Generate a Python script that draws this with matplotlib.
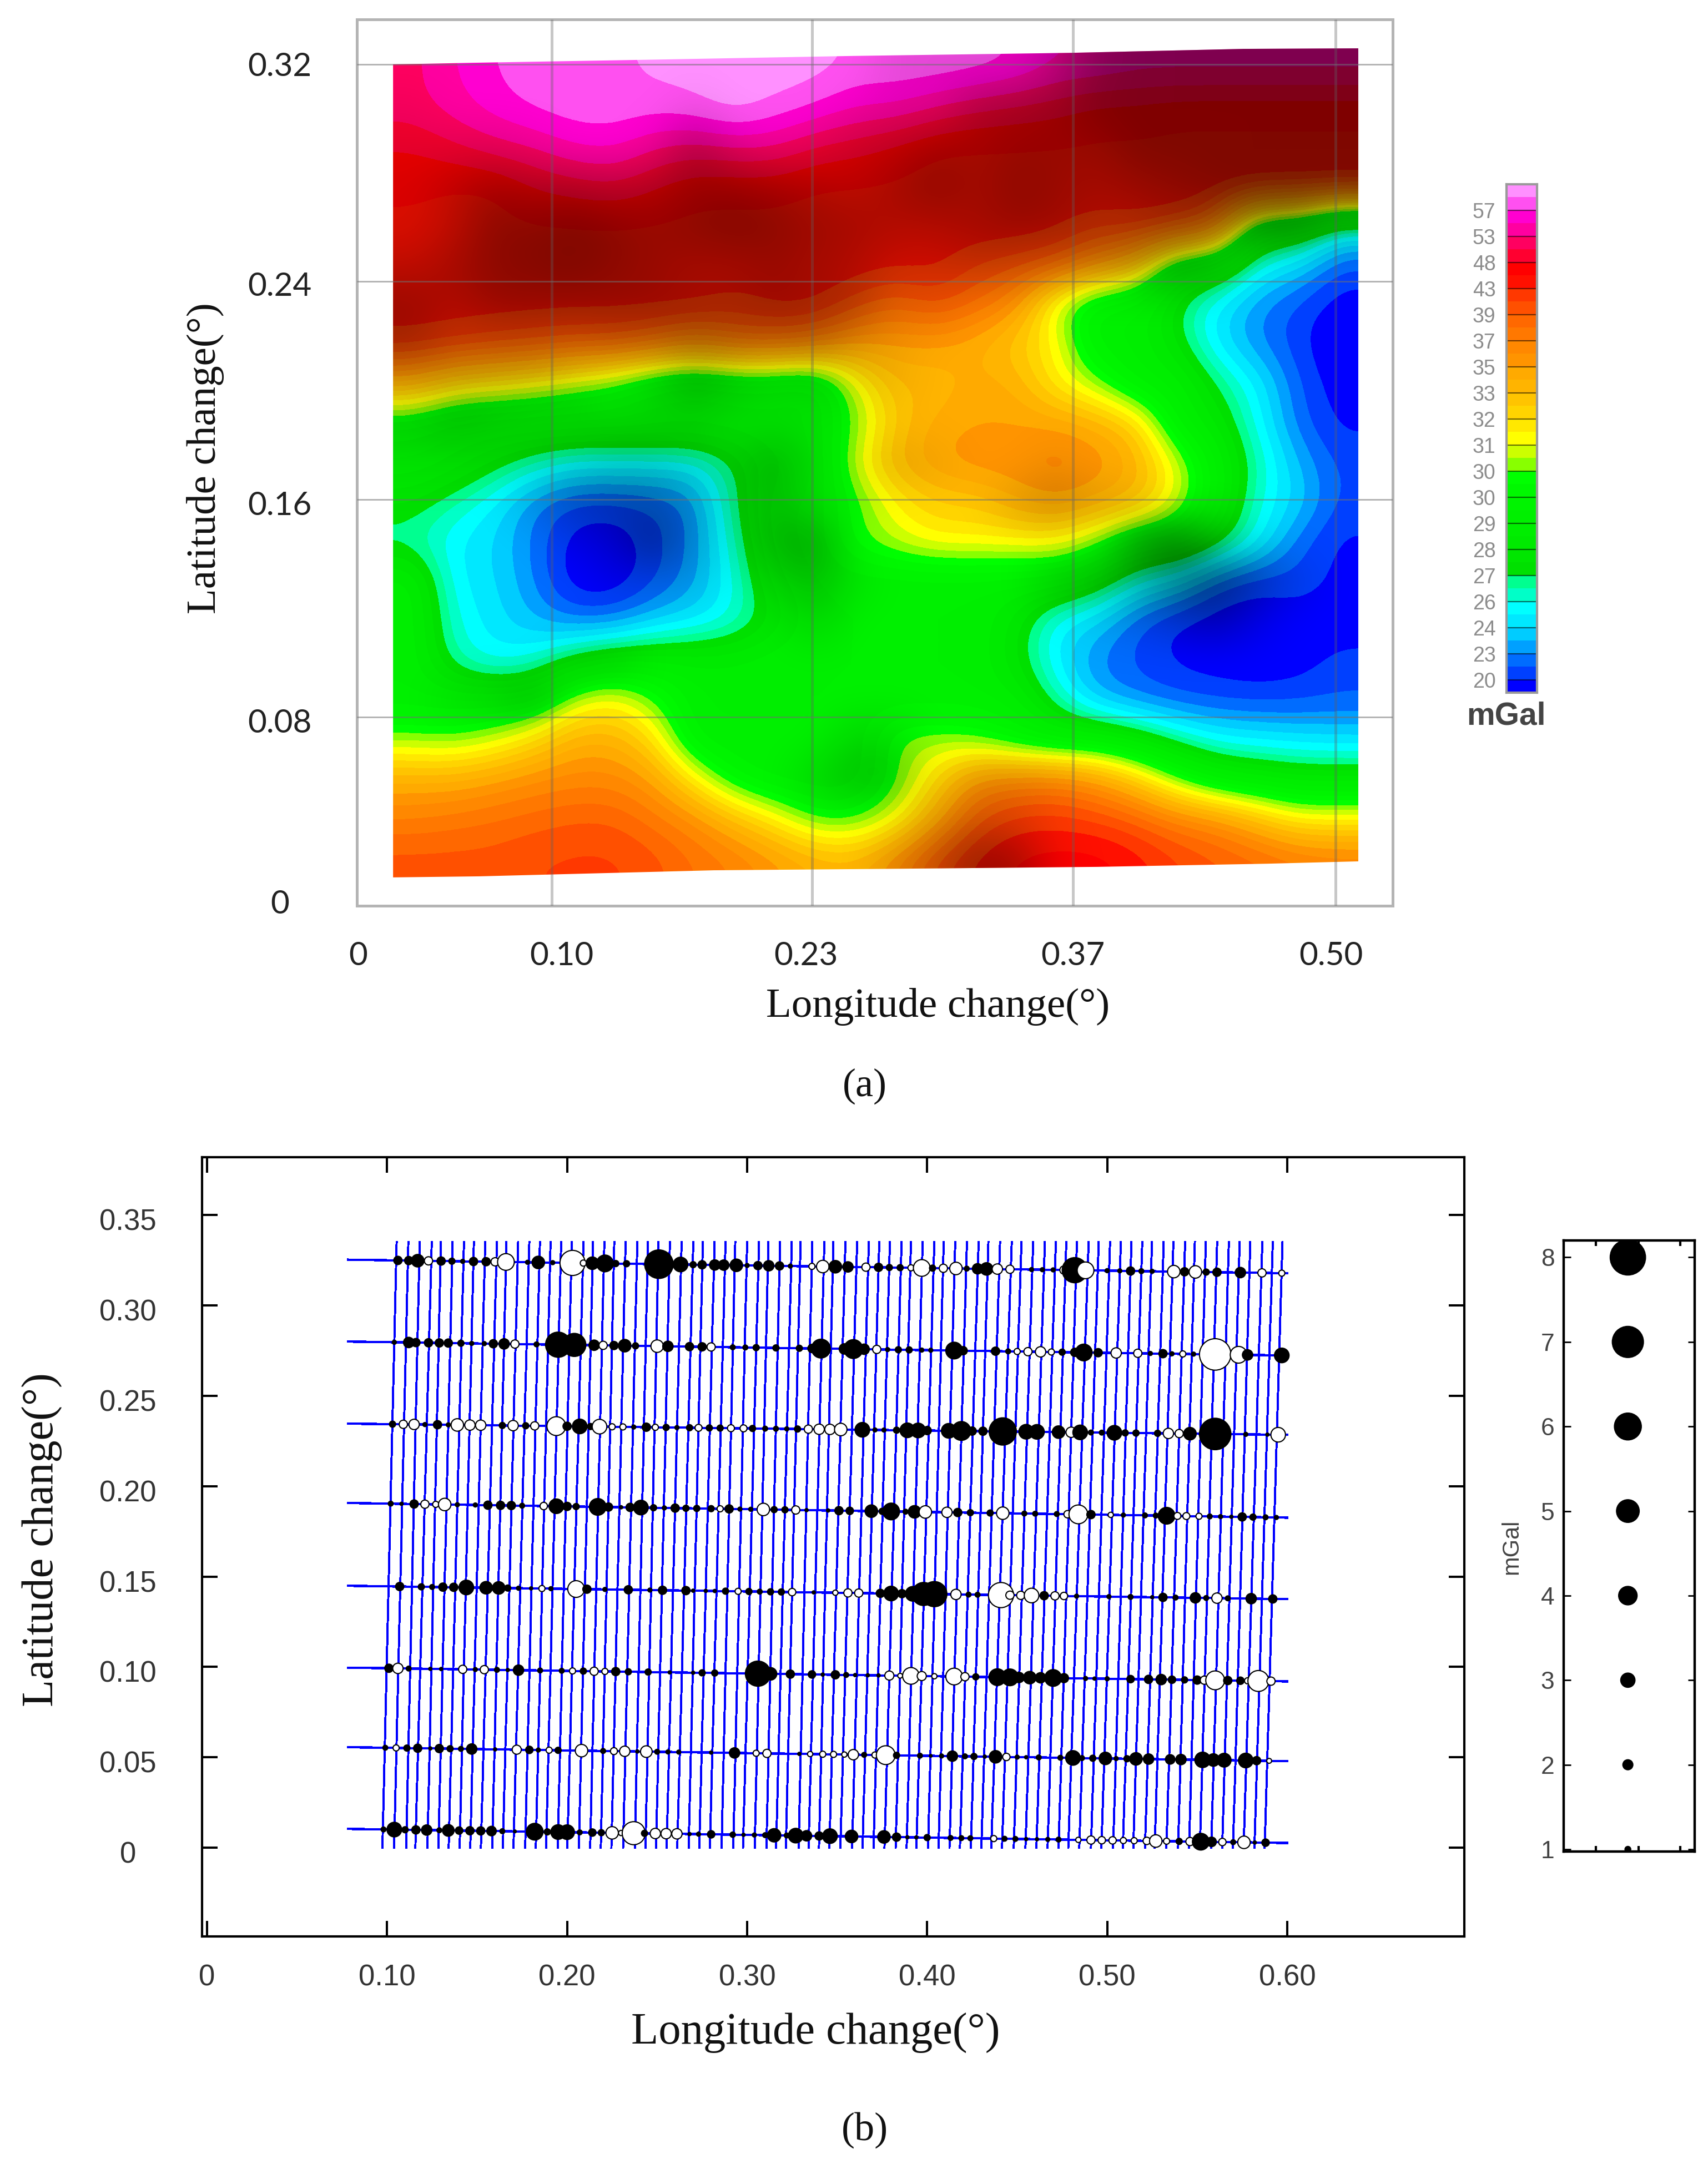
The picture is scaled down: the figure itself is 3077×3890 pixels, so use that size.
import numpy as np
from matplotlib import pyplot as plt
from matplotlib.colors import ListedColormap, BoundaryNorm, LinearSegmentedColormap
from matplotlib.patches import Polygon
from matplotlib.transforms import ScaledTranslation

W, H = 3077, 3890
plt.rcParams['font.family'] = ['Liberation Sans', 'DejaVu Sans']

# (a) gravity field, mGal, rows top to bottom
field = np.array([
    [52,55,57,60,60,60,62,63,64,64,63,60,60, 60,59,57,55,55,54,54,54,54,54,54],
    [52,54,56,58,60,60,59,60,64,60,57,55,55, 53,51,50,49,47,47,46,46,46,46,46],
    [48,50,52,53,55,55.5,53,52,53,53,50,49,47, 45,45,45,45,45,45,45,45,45,45,45],
    [46,45,45,48,49,50,48,46,46,46,45,45,45, 45,45,45,45,45,45,45,45,45,45,45],
    [45,45,45,45,45,45,45,45,45,45,45,45,45, 45,45,45,44,42,43,42,38,29,29,26],
    [45,45,45,45,45,45,45,45,45,45,45,45,44, 44,41,40,39,36,33,29,29,25.5,24,21],
    [44,44,44,44,44,44,44,44,42,44,44,40,38, 40,38,36,30.6,29,29,27,24.5,23,21,19],
    [43,42,41,40,39,39,38,36,38,38,37,35,35, 35,34,32.5,31.5,29,29,27.5,24.5,23,20.5,18],
    [34,32,31.5,31,30.5,30,29,28.5,29,29,28.5,31,33, 33,34.5,34,31.5,30.5,29,29,27,25,21.5,19],
    [29.5,29,29,29,29,29,29,29,29,29,29,30.3,32.5, 34.5,35,35,35,34,32.5,29,28,25.5,22,19.5],
    [29,28.5,27.5,26.5,25.5,25.5,25.5,25.5,27,28.5,28.5,31,33.5, 35,36,36,37,36,34,31,29,26.5,23.5,21],
    [27.5,26.5,25,23,21,21,21.5,23,27,29,29,30,31.5, 32.5,32.5,34,35,34,33,31,29,26,24,21],
    [26.5,25,24,22.5,19,18.5,21,23,26.5,29,29,30.2,30.8, 31.5,31.5,31.5,31.5,30.5,29,29,27.5,25.5,22,19.5],
    [29,25,24.3,23,18.5,18.5,21,23.3,25.8,28.5,29,29,29, 29,29,29,29,27.8,26,24.5,21.5,20,21,19.5],
    [29,26,24.5,23.5,22.5,22.5,23.8,24.5,26,27.5,29,29,29, 29,29,27.8,25,24,21.5,19.5,19,19,19,19],
    [29,26.5,25,26,27.5,28.5,28.6,28.6,28.6,29,29,29,29, 29,29,27.5,24.8,22.5,21,19.5,19,18.5,19,20.5],
    [29,29,29,29,30.8,31.5,30.3,29,29,29,29,29,29, 29,29,28.8,26.5,23.5,22.5,21.5,21,20.8,21,21.5],
    [30.5,30.3,30.8,32,34,34,32,29,29,29,29,29,30.5, 30.6,30.3,29.5,29,29,28,26.5,25.2,24.7,24.3,24],
    [34,34,35,36,36.5,36.5,35,31.5,29.5,29,29,29,30, 32,35.5,36.5,37,35.5,32.5,30.3,29,28.5,28,28],
    [37,37.5,38,38.5,39,39,37.5,36,33,31.5,30,30,31, 34,39,42,42,41,39,37,36,33,31.5,31.5],
    [40,40,40,41,41.5,41.5,40,38,37,35.5,34,33.5,36, 40,44,46,47,47,44.5,41.5,39.5,38.5,37.5,37],
])

# hill shading of the same cells
shade = np.array([
    [0,0,0,0,0,0,0,0,0,0,0,0,.1, .1,.1,.1,.25,.45,.5,.5,.5,.5,.5,.5],
    [.05,0,0,0,0,0,0,.05,0,0,0,.05,.1, .1,.3,.35,.4,.5,.5,.5,.5,.5,.5,.5],
    [.1,.1,.1,.05,0,0,.05,.3,.1,.05,.1,.2,.25, .35,.35,.4,.4,.4,.5,.5,.5,.5,.5,.5],
    [.15,.25,.35,.3,.3,.25,.3,.4,.4,.35,.3,.25,.35, .45,.35,.45,.4,.35,.4,.45,.5,.5,.5,.5],
    [.15,.25,.45,.45,.5,.45,.4,.45,.5,.45,.38,.35,.3, .3,.35,.4,.38,.3,.3,.35,.3,.4,.4,.2],
    [.25,.35,.45,.48,.5,.45,.4,.35,.35,.4,.35,.3,.2, .2,.25,.2,.15,.2,.25,.3,.2,0,0,0],
    [.4,.3,.4,.4,.4,.4,.4,.35,.35,.4,.35,.3,.1, .1,0,0,0,0,0,0,0,0,0,0],
    [.35,.2,.2,.2,.15,.2,.2,.3,.25,.2,.25,.1,.05, 0,0,0,0,0,0,0,0,0,0,0],
    [.1,.2,.2,.2,.15,.05,.1,.25,.15,.1,.1,.1,.05, 0,0,0,0,0,0,0,0,0,0,0],
    [.15,.2,.15,.1,.1,.1,.1,.1,.05,.05,.05,.05,0, 0,0,0,0,0,0,0,0,0,0,0],
    [.05,.05,.05,.1,.15,.2,.2,.15,.1,.25,.05,.05,.1, .05,0,0,.05,0,0,0,0,0,0,0],
    [0,0,0,.1,.25,.3,.3,.15,.1,.2,.05,.05,0, 0,0,.1,.2,.1,.05,0,0,0,0,0],
    [0,0,0,0,.1,.2,.45,.15,.05,.25,.3,0,0, 0,0,0,0,0,.3,.45,.2,.05,0,0],
    [0,0,0,0,0,.1,.1,.1,0,.1,.2,.05,0, 0,0,0,.15,.2,.3,.45,.5,.3,.1,0],
    [0,0,0,0,0,0,0,0,0,0,.1,0,0, 0,0,0,0,.05,.1,.2,.3,.1,0,0],
    [0,0,0,0,.1,.1,0,0,0,0,0,0,0, 0,0,0,0,0,0,0,0,0,0,0],
    [0,.05,.1,.2,0,0,0,0,0,0,0,0,0, 0,0,0,0,0,0,0,0,0,0,0],
    [0,0,0,0,0,0,0,0,0,0,0,.1,.1, 0,0,0,0,0,0,0,0,0,0,0],
    [0,0,0,0,0,0,0,0,0,0,.1,.2,.2, 0,.1,.1,.05,0,0,0,0,0,0,0],
    [0,0,0,0,0,0,0,0,0,0,0,0,0, .1,.15,.1,0,0,0,0,0,0,0,0],
    [0,0,0,0,0,0,0,0,0,0,0,0,.1, .2,.4,.35,.05,0,0,0,0,0,0,0],
])

# outline of the surveyed area
edge_x = [.0179,.0582,.1579,.2521,.3654,.4532,.5117,.5117,.4650,.3780,.2780,.1820,.0620,.0179]
edge_y = [.3200,.3206,.3219,.3232,.3244,.3259,.3261,.0169,.0160,.0148,.0141,.0135,.0112,.0108]

levels = [17,20,23,24,26,27,28,29,29.6,30.3,31,32,33,35,37,39,43,48,53,57,65]
level_labels = ['20','23','24','26','27','28','29','30','30','31','32','33','35','37','39','43','48','53','57']
band_colors = ['#0000ff','#0000ff','#0040ff','#006cff','#00a0ff','#00ccff','#00e8ff','#00ffff',
               '#00ffc8','#00ff90','#00e000','#00e600','#00ea00','#00ee00','#00f000','#00f400',
               '#00f800','#00ff00','#88ff00','#ccff00','#ffff00','#ffe800','#ffd400','#ffc400',
               '#ffb400','#ffaa00','#ff9400','#ff8800','#ff7800','#ff6800','#ff5000','#ff3800',
               '#ff1000','#ff0000','#ff0030','#ff0060','#ff00a0','#ff00d0','#ff50f0','#ff90ff']

a_xticks = [0,.1042,.2291,.3657,.4977]
a_xlabels = ['0','0.10','0.23','0.37','0.50']
a_yticks = [.0015,.0705,.1532,.2366,.3202]
a_ylabels = ['0','0.08','0.16','0.24','0.32']
a_gridx = [.0991,.2322,.3657,.5]
a_gridy = [.0718,.1545,.2375,.32]

# (b) survey lines, degrees
line_top = [.1053,.1118,.1181,.1248,.1299,.1364,.1427,.1482,.1545,.1610,.1663,.1728,.1790,.1849,.1908,.1967,.2026,.2091,
            .2144,.2207,.2262,.2325,.2390,.2449,.2508,.2571,.2636,.2701,.2754,.2819,.2880,.2934,.3000,.3066,.3118,.3183,
            .3248,.3297,.3362,.3429,.3479,.3546,.3611,.3676,.3734,.3793,.3858,.3910,.3975,.4040,.4092,.4156,.4221,.4286,
            .4340,.4405,.4470,.4524,.4589,.4654,.4715,.4773,.4832,.4897,.4953,.5016,.5076,.5135,.5195,.5249,.5314,.5368,
            .5433,.5487,.5548,.5611,.5676,.5736,.5795,.5862,.5920,.5974]
line_bot = [.0974,.1039,.1106,.1157,.1224,.1285,.1342,.1403,.1462,.1521,.1584,.1643,.1702,.1767,.1826,.1883,.1948,.2001,
            .2065,.2128,.2187,.2246,.2311,.2376,.2435,.2494,.2553,.2612,.2675,.2734,.2793,.2858,.2923,.2977,.3042,.3107,
            .3161,.3215,.3286,.3341,.3399,.3457,.3518,.3583,.3641,.3702,.3763,.3825,.3886,.3940,.4005,.4063,.4124,.4182,
            .4243,.4301,.4356,.4416,.4481,.4546,.4607,.4669,.4730,.4784,.4845,.4910,.4968,.5033,.5087,.5145,.5210,.5264,
            .5329,.5394,.5455,.5515,.5578,.5639,.5699,.5758,.5818,.5875]
row_left = [.3253,.2800,.2346,.1907,.1449,.0996,.0556,.0104]
row_right = [.3178,.2723,.2284,.1826,.1375,.0920,.0479,.0026]
row_xstart = .0783
row_xend = .600

# crossover residuals, black positive, white negative
r1_x = [.106,.112,.117,.123,.130,.136,.142,.148,.155,.160,.166,.178,.184,.192,.203,.209,.214,.221,.227,.233,.251,.263,.270,.275,.282,
        .287,.294,.300,.306,.312,.318,.324,.336,.342,.349,.356,.366,.373,.379,.385,.391,.397,.403,.409,.416,.422,.428,.433,.439,.446,
        .458,.464,.470,.476,.482,.488,.500,.507,.513,.519,.525,.537,.543,.549,.555,.561,.574,.586,.597]
r1_v = [1.5,1.5,2.5,-1.5,1.5,1,.5,1.5,1.5,-1.5,-3.5,.5,2.5,.5,-5.5,-1,2.5,3.5,1,1,6.3,3,1,1.5,2,
        2,2.5,.5,1.5,2,1.5,.5,-1,-2.5,2.5,2,-1.5,1.5,1,1,-1,-3.5,1,-1.5,-2.5,.7,2,2.5,-2,-1.5,
        .5,.5,.5,-1.5,5.5,-3.5,.5,.5,1.5,.7,.5,-2.5,1.5,-2.5,1,1.5,2,-1.5,-1]
r2_x = [.104,.112,.116,.123,.129,.134,.141,.147,.154,.159,.165,.171,.183,.195,.204,.215,.220,.226,.232,.238,.250,.256,.268,.275,.280,
        .292,.299,.305,.316,.329,.336,.341,.354,.359,.365,.372,.378,.384,.390,.397,.402,.415,.420,.438,.445,.450,.456,.463,.469,.475,
        .482,.487,.495,.505,.517,.524,.531,.536,.542,.548,.560,.573,.578,.597]
r2_v = [.5,2,1.5,1.5,1.5,1.5,1,.5,.5,1.5,2,-1.5,.7,5.5,5,2,-1.5,1.5,2.5,1,-2.5,2,1.5,1.5,-1.5,
        .7,.7,1,1,1,1.5,4,2,4,2,-1.5,.5,1,1,.5,.5,3.5,1.5,1.5,.7,-1,-1.5,-2,-1,1,
        1.5,3.5,1.5,-2,-1.5,.5,1.5,.5,-1,.5,-7,-3.5,2,3]
r3_x = [.103,.109,.115,.121,.128,.134,.139,.146,.152,.164,.170,.177,.182,.194,.200,.207,.213,.218,.225,.231,.237,.244,.249,.255,.261,.268,.273,.279,.285,
        .291,.298,.303,.310,.316,.322,.328,.334,.340,.346,.352,.364,.371,.376,.383,.389,.395,.400,.412,.419,.425,.431,.442,.455,.461,
        .473,.480,.485,.491,.497,.504,.510,.516,.528,.534,.540,.546,.560,.577,.589,.595]
r3_v = [1,-1.5,-2,.5,1.5,.5,-2.5,-2,-2,1,-2,1,-1.5,-4,1.5,3,1,-3,-1,-1,.5,1.5,-1,1,.5,1,-1.2,1,1,
        -1.2,-1.2,1,.7,.7,.5,1,-1.5,-2,-2,-2.5,3,.5,.5,1,3,3,1.5,3,4,1.5,1.5,6,3,3,
        2.5,-2,3,.7,.7,3,1,1,1,-2,-1.5,2.5,7,.5,.3,-3]
r4_x = [.102,.108,.115,.121,.127,.132,.139,.149,.156,.163,.169,.175,.187,.194,.200,.205,.217,.223,.230,.235,.241,.248,.254,.260,.266,.272,.280,.285,
        .290,.296,.302,.309,.315,.321,.327,.333,.345,.351,.357,.369,.375,.380,.388,.393,.399,.411,.417,.424,.435,.442,.454,.460,
        .472,.478,.484,.491,.502,.509,.521,.527,.533,.539,.544,.551,.557,.563,.569,.575,.581,.588,.594]
r4_v = [.7,.3,1.5,-1.5,-1,-2.5,.5,.5,1.5,1.5,1.5,.7,-1.3,3,1.5,1,3.5,1.5,.3,1.5,3,1,.5,1.5,1,1,1,-1,
        1.5,.5,.5,-2.5,1,1,-1.5,.3,.3,1.5,1.3,2.5,1,3.5,.7,2.5,-2.5,-2,1.5,1,1,-2.5,.7,.7,
        .7,-1.3,-4,1.5,-.8,.5,.7,.7,3.5,-1.2,-1.2,-1,.7,.5,.3,1.5,1,.7,.5]
r5_x = [.107,.119,.125,.131,.137,.144,.155,.162,.167,.173,.180,.186,.191,.205,.211,.221,.234,.246,.253,.266,.270,.277,.282,
        .288,.295,.301,.307,.313,.319,.325,.337,.349,.356,.362,.374,.380,.386,.392,.398,.404,.416,.423,.428,.441,.446,.452,.458,
        .465,.471,.476,.483,.501,.513,.525,.531,.538,.549,.555,.561,.567,.580,.592]
r5_v = [1.5,1,.7,1.5,1.5,3,2.5,2.5,1,.5,.3,-1,.5,-3.5,1.5,.5,1.5,.5,1.5,1.5,.3,.3,.3,
        1,-1,1,.7,1,1,-1.3,.3,-.8,-1.5,-1.5,1.5,3,1.5,3,5,5.5,-2,.7,.7,-5.5,-1.5,-1.5,-3,
        1.5,-1.5,-1.3,.5,.5,.7,.3,1.5,.7,2,.7,-2,.7,2,1.5]
r6_x = [.101,.106,.112,.124,.130,.142,.149,.154,.161,.167,.173,.185,.197,.203,.209,.215,.221,.227,.234,.245,.257,.270,.275,.282,
        .306,.313,.324,.336,.342,.349,.355,.360,.367,.373,.379,.385,.391,.397,.404,.415,.421,.427,.439,.446,.451,.457,.463,.470,.476,
        .488,.493,.500,.513,.523,.530,.536,.543,.550,.554,.560,.567,.574,.578,.584,.591]
r6_v = [1.5,-2,.7,.3,.3,-1.5,.5,-1.5,.7,.3,2,.7,.7,-1,1,-1.5,-1,1.5,1,1,.3,.3,1,1,
        5.5,2.5,1.5,1.3,.3,1.5,.7,.3,.3,.3,-1.7,-.7,-3.5,-1.7,-.8,-3.5,-1.5,1,3.5,3.5,2,2.5,2,3.5,1.7,
        .5,.3,.5,1.3,1.5,2,1.3,1,1.5,-1.5,-4,1.5,1.3,-1,-4.5,-1.5]
r7_x = [.099,.105,.111,.117,.124,.129,.135,.141,.147,.160,.172,.179,.184,.190,.195,.208,.220,.226,.232,.239,.244,.250,.256,.262,.280,
        .293,.305,.311,.329,.335,.342,.348,.354,.359,.365,.371,.377,.383,.396,.402,.408,.414,.421,.426,.432,.438,.444,.450,.455,.462,
        .474,.481,.486,.492,.499,.505,.511,.516,.523,.535,.541,.553,.559,.565,.577,.583,.590]
r7_v = [.7,-1,1,1.5,.3,1.5,1,.7,2,.3,-1.7,1.3,.5,-1,1,-2.5,.7,-1.2,-2,.3,-2.3,.7,.5,.5,.3,
        2,-1,-1.5,.3,-.8,-1,-1,-.8,-2,.7,-1,-4,1,.7,.2,.5,2,.7,1,.3,2.5,-1.3,.5,.3,.7,
        .7,3,.7,1,2.5,.5,1,2.5,2,1.8,2,3.2,2.5,2.8,3,1.5,-.7]
r8_x = [.098,.104,.110,.116,.122,.129,.134,.140,.146,.152,.158,.164,.171,.182,.189,.195,.200,.207,.214,.219,.225,.230,.237,.243,.249,.255,.261,.268,.273,.280,
        .292,.298,.304,.310,.315,.322,.327,.333,.340,.346,.358,.376,.383,.389,.394,.400,.413,.419,.424,.437,.443,.449,.455,.461,.467,.473,
        .484,.491,.497,.503,.509,.515,.522,.527,.533,.540,.546,.552,.558,.564,.570,.576,.582,.588]
r8_v = [.7,3,1,1.5,2,.7,2.3,1.3,1.5,1.5,1.8,.7,.2,3.5,1,3,3,.7,1.3,1,-2.5,-.8,-5,1,-2,-2,-2,.3,.5,1.3,
        .8,.3,.5,.7,2.7,.7,3,2,1.5,3,2.5,2.5,1.5,.3,.3,1,.7,.7,.7,-1,.7,.7,.3,.3,.5,.7,
        -.8,-1.5,-1.3,-1.3,-1,-1,-1.3,-2.5,-1,1,-1.5,3.5,1.8,-1.3,.7,-2.5,.3,1.3]
rows_x = [r1_x, r2_x, r3_x, r4_x, r5_x, r6_x, r7_x, r8_x]
rows_v = [r1_v, r2_v, r3_v, r4_v, r5_v, r6_v, r7_v, r8_v]

b_xticks = [0,.10,.20,.30,.40,.50,.60]
b_xlabels = ['0','0.10','0.20','0.30','0.40','0.50','0.60']
b_yticks = [0,.05,.10,.15,.20,.25,.30,.35]
b_ylabels = ['0','0.05','0.10','0.15','0.20','0.25','0.30','0.35']

scale_vals = [1,2,3,4,5,6,7,8]

fig = plt.figure(figsize=(W/100, H/100), dpi=100)


def px_axes(left, top, right, bottom):
    return fig.add_axes([left/W, 1-bottom/H, (right-left)/W, (bottom-top)/H])


def px_text(x, y, s, **kw):
    return fig.text(x/W, 1-y/H, s, ha='center', va='center', **kw)


def dot_size(v):
    # marker diameter in pixels as in the size key
    return ((3.5 + 7.6*np.abs(np.array(v, dtype=float)))*0.72)**2


# panel (a)
ax = px_axes(643, 35, 2509, 1632)
cmap = ListedColormap(band_colors)
norm = BoundaryNorm(np.arange(0, 20.5, .5), cmap.N)
band_pos = np.interp(field, levels, np.arange(len(levels)))
ext = (.0179, .5117, .0108, .3261)
im = ax.imshow(band_pos, cmap=cmap, norm=norm, extent=ext, aspect='auto',
               interpolation='bicubic', interpolation_stage='data', zorder=1)
shade_cmap = LinearSegmentedColormap.from_list('shade', [(0, 0, 0, 0), (0, 0, 0, 1)])
im2 = ax.imshow(shade, cmap=shade_cmap, vmin=0, vmax=1, extent=ext, aspect='auto',
                interpolation='bicubic', interpolation_stage='data', zorder=2)
outline = Polygon(np.column_stack([edge_x, edge_y]), closed=True, transform=ax.transData)
im.set_clip_path(outline)
im2.set_clip_path(outline)
ax.set_xlim(-.0006, .5293)
ax.set_ylim(0, .3371)
ax.vlines(a_gridx, 0, .3371, color='#606060', alpha=.35, lw=3.6, zorder=3)
ax.hlines(a_gridy, -.0006, .5293, color='#707070', alpha=.55, lw=2, zorder=3)
ax.set_xticks(a_xticks, a_xlabels, fontsize=42, family='Lato', color='#222222')
ax.set_yticks(a_yticks, a_ylabels, fontsize=42, family='Lato', color='#222222')
ax.tick_params(axis='both', length=0)
ax.tick_params(axis='x', pad=46)
ax.tick_params(axis='y', pad=100)
for t in ax.get_yticklabels():
    t.set_horizontalalignment('center')
for s in ax.spines.values():
    s.set_color('#b4b4b4')
    s.set_linewidth(3.6)
px_text(1690, 1814, 'Longitude change(°)', family='Liberation Serif', fontsize=54, color='#111111')
px_text(370, 826, 'Latitude change(°)', family='Liberation Serif', fontsize=54, rotation=90, color='#111111')
px_text(1558, 1957, '(a)', family='Liberation Serif', fontsize=52, color='#111111')

# colour key of (a)
cax = px_axes(2714, 332, 2769, 1248)
edges = np.arange(0, 20.5, .5)
cax.pcolormesh([0, 1], edges, np.arange(40).reshape(-1, 1), cmap=cmap, vmin=-.5, vmax=39.5)
cax.set_ylim(.5, 20)
cax.set_xlim(0, 1)
cax.hlines(np.arange(1, 20), 0, 1, color='black', alpha=.55, lw=1.6)
cax.set_xticks([])
cax.set_yticks(np.arange(1, 20), level_labels, fontsize=27, color='#8c8c8c')
cax.tick_params(axis='y', length=0, pad=14)
for s in cax.spines.values():
    s.set_color('#9a9a9a')
    s.set_linewidth(3)
px_text(2713, 1291, 'mGal', fontsize=41, fontweight='bold', color='#444444')

# panel (b)
bx = px_axes(364, 2085, 2638, 3489)
bx.set_xlim(-.0028, .6984)
bx.set_ylim(-.0491, .382)
for t, b in zip(line_top, line_bot):
    bx.plot([t, b], [.335, 0], color='#0000ff', lw=2.1, aa=False, zorder=1)
for i in range(len(rows_x)):
    ends_x = [row_xstart, row_xend]
    ends_y = [row_left[i], row_right[i]]
    bx.plot(ends_x, ends_y, color='#0000ff', lw=2.4, aa=False, zorder=2)
    xs = np.array(rows_x[i])
    vs = np.array(rows_v[i])
    ys = np.interp(xs, ends_x, ends_y)
    cols = ['black' if v > 0 else 'white' for v in vs]
    bx.scatter(xs, ys, s=dot_size(vs), c=cols, edgecolors='black', linewidths=1.5, zorder=3)
bx.set_xticks(b_xticks, b_xlabels, fontsize=38, color='#333333')
bx.set_yticks(b_yticks, b_ylabels, fontsize=38, color='#333333')
bx.tick_params(axis='both', direction='in', length=20, width=2.9, top=True, right=True)
bx.tick_params(axis='x', pad=36)
bx.tick_params(axis='y', pad=96)
for t in bx.get_yticklabels():
    t.set_horizontalalignment('center')
    t.set_transform(t.get_transform() + ScaledTranslation(0, -8/100, fig.dpi_scale_trans))
for s in bx.spines.values():
    s.set_linewidth(3)
px_text(1469, 3663, 'Longitude change(°)', family='Liberation Serif', fontsize=58, color='#111111')
px_text(76, 2774, 'Latitude change(°)', family='Liberation Serif', fontsize=58, rotation=90, color='#111111')
px_text(1558, 3838, '(b)', family='Liberation Serif', fontsize=52, color='#111111')

# size key of (b)
kx = px_axes(2817, 2235, 3053, 3336)
kx.set_xlim(0, 1)
kx.set_ylim(.974, 8.2)
kx.scatter([.49]*len(scale_vals), scale_vals, s=dot_size(scale_vals), c='black', zorder=3)
kx.set_xticks([.246, .57, .89], ['', '', ''])
kx.set_yticks(scale_vals, [str(v) for v in scale_vals], fontsize=32, color='#444444')
kx.tick_params(axis='y', direction='in', length=9, width=2, right=True, pad=12)
kx.tick_params(axis='x', direction='in', length=7, width=3, top=True)
for s in kx.spines.values():
    s.set_linewidth(3.2)
px_text(2723, 2787, 'mGal', fontsize=30, rotation=90, color='#444444')

fig.savefig('out.png', dpi=100)
